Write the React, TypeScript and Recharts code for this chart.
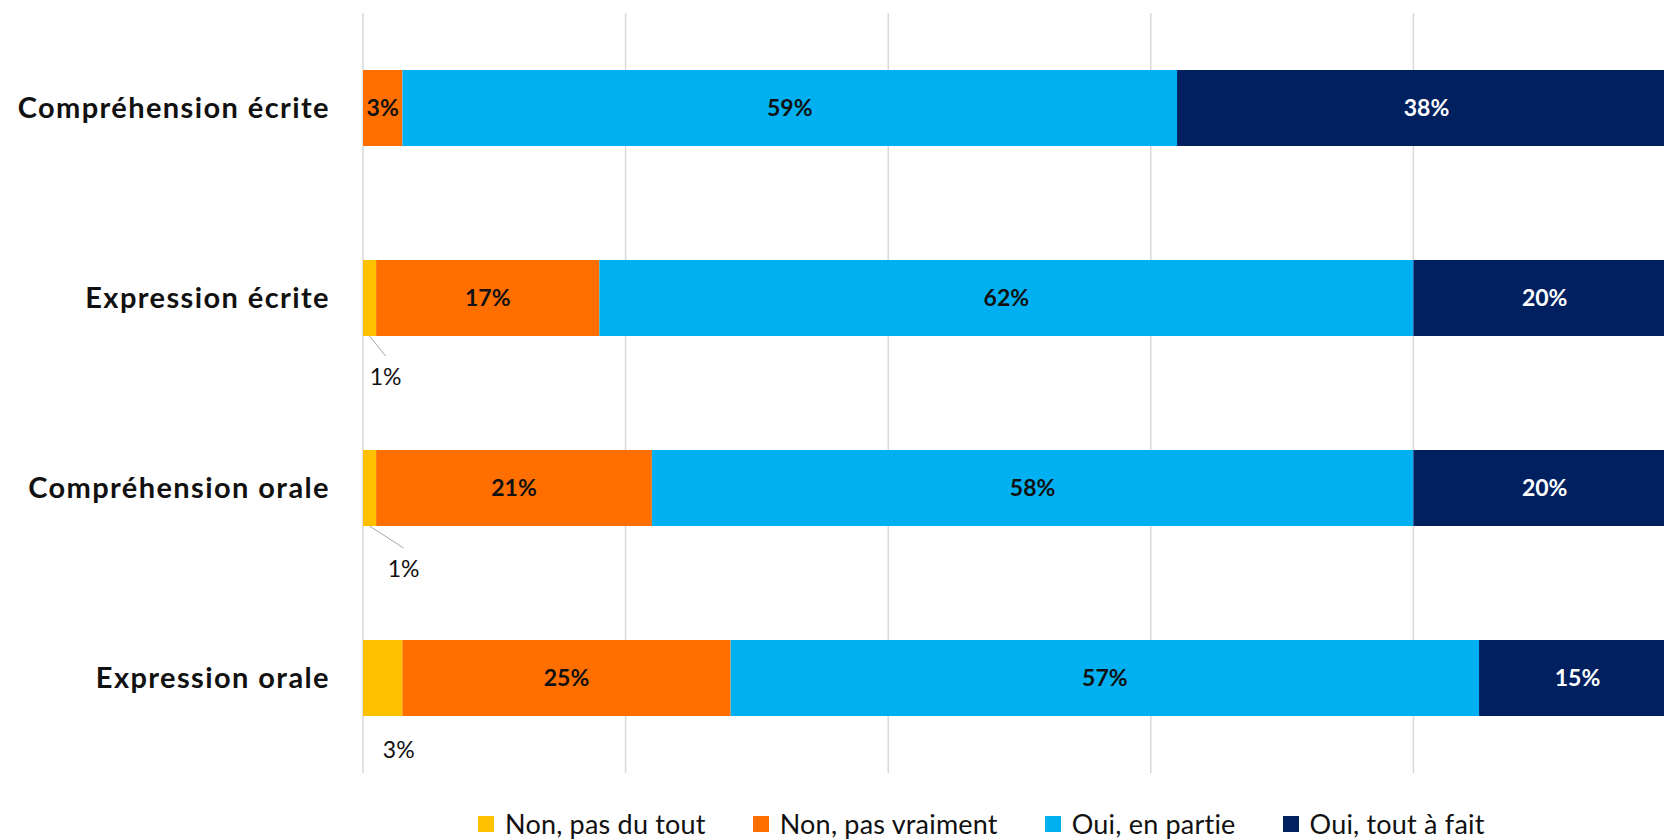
import React from 'react';
import { BarChart, Bar, XAxis, YAxis, CartesianGrid, Legend, LabelList } from 'recharts';

const categories = ['Compréhension écrite', 'Expression écrite', 'Compréhension orale', 'Expression orale'];
const nonPasDuTout = [0, 1, 1, 3];
const nonPasVraiment = [3, 17, 21, 25];
const ouiEnPartie = [59, 62, 58, 57];
const ouiToutAFait = [38, 20, 20, 15];
const seriesNames = ['Non, pas du tout', 'Non, pas vraiment', 'Oui, en partie', 'Oui, tout à fait'];
const seriesColors = ['#FFC000', '#FF6F00', '#00B0F0', '#002060'];
const xTicks = [0, 20, 40, 60, 80, 100];

// manual placement of the small outside labels (offset from bar bottom-centre)
const outsideLabelOffsets = [
  null,
  { dx: 16, dy: 40, line: true },
  { dx: 34, dy: 42, line: true },
  { dx: 16, dy: 33, line: false },
];

const data = categories.map((category, i) => ({
  category,
  s0: nonPasDuTout[i],
  s1: nonPasVraiment[i],
  s2: ouiEnPartie[i],
  s3: ouiToutAFait[i],
}));

const FONT = 'Lato, "Open Sans", sans-serif';

const OutsideLabel = (props: any) => {
  const vb = props.viewBox && props.viewBox.x !== undefined ? props.viewBox : props;
  const { x, y, width, height } = vb;
  const idx = categories.indexOf(props.value);
  if (idx < 0) return null;
  const value = nonPasDuTout[idx];
  if (!value) return null;
  const off = outsideLabelOffsets[idx];
  if (!off) return null;
  const cx = x + width / 2;
  const by = y + height;
  const lx = cx + off.dx;
  const ly = by + off.dy;
  return (
    <g>
      {off.line && (
        <line x1={cx} y1={by} x2={lx} y2={ly - 20} stroke="#a6a6a6" strokeWidth={1} />
      )}
      <text x={lx} y={ly} textAnchor="middle" dominantBaseline="central" fontSize={23} fill="#111" fontFamily={FONT}>
        {value}%
      </text>
    </g>
  );
};

const renderLegend = () => (
  <div
    style={{
      display: 'flex',
      alignItems: 'center',
      paddingLeft: 478,
      paddingTop: 39,
      fontFamily: FONT,
      fontSize: 27,
      letterSpacing: 0.2,
      color: '#111',
      lineHeight: '24px',
    }}
  >
    {seriesNames.map((name, i) => (
      <div key={name} style={{ display: 'flex', alignItems: 'center', marginRight: i < 3 ? 47 : 0 }}>
        <span style={{ display: 'inline-block', width: 16, height: 16, background: seriesColors[i], marginRight: 11 }} />
        <span>{name}</span>
      </div>
    ))}
  </div>
);

export default function App() {
  return (
    <div style={{ position: 'fixed', left: 0, top: 0, width: 1664, height: 839, overflow: 'hidden', background: '#fff', fontFamily: FONT }}>
      <BarChart
        width={1676}
        height={839}
        data={data}
        layout="vertical"
        margin={{ top: 13, right: 0, bottom: 0, left: 0 }}
      >
        <CartesianGrid horizontal={false} stroke="#d9d9d9" strokeWidth={1.5} />
        <XAxis type="number" domain={[0, 100]} ticks={xTicks} hide />
        <YAxis
          type="category"
          dataKey="category"
          width={363}
          axisLine={false}
          tickLine={false}
          tickSize={0}
          tickMargin={33}
          tick={{ fontSize: 29, fontWeight: 700, fill: '#111', fontFamily: FONT, letterSpacing: 1.4 }}
        />
        <Legend verticalAlign="bottom" height={66} wrapperStyle={{ height: 66 }} content={renderLegend} />
        <Bar dataKey="s0" stackId="a" fill={seriesColors[0]} barSize={76} isAnimationActive={false}>
          <LabelList dataKey="category" content={OutsideLabel} />
        </Bar>
        <Bar dataKey="s1" stackId="a" fill={seriesColors[1]} barSize={76} isAnimationActive={false}>
          <LabelList dataKey="s1" position="center" formatter={(v: any) => `${v}%`} fill="#111" fontSize={23} fontWeight={700} fontFamily={FONT} />
        </Bar>
        <Bar dataKey="s2" stackId="a" fill={seriesColors[2]} barSize={76} isAnimationActive={false}>
          <LabelList dataKey="s2" position="center" formatter={(v: any) => `${v}%`} fill="#111" fontSize={23} fontWeight={700} fontFamily={FONT} />
        </Bar>
        <Bar dataKey="s3" stackId="a" fill={seriesColors[3]} barSize={76} isAnimationActive={false}>
          <LabelList dataKey="s3" position="center" formatter={(v: any) => `${v}%`} fill="#fff" fontSize={23} fontWeight={700} fontFamily={FONT} />
        </Bar>
      </BarChart>
    </div>
  );
}
